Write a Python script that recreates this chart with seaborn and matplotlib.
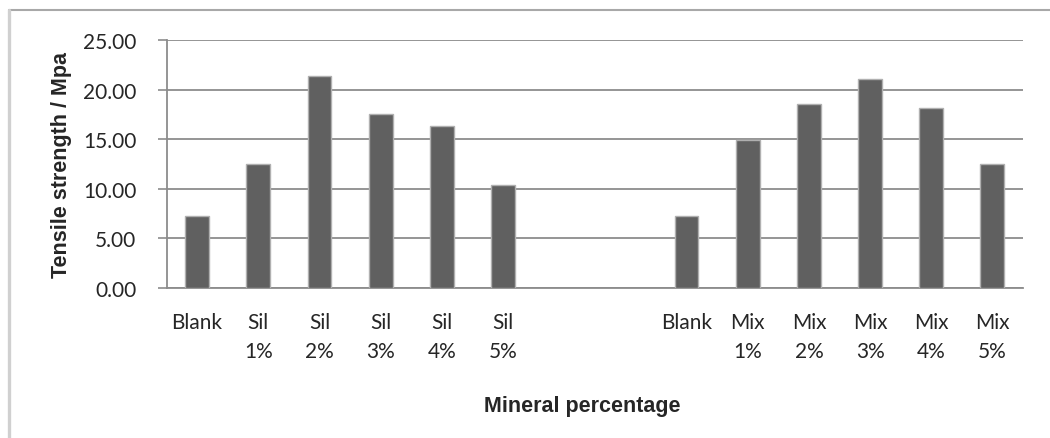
import matplotlib
matplotlib.use("Agg")
import matplotlib.pyplot as plt
from matplotlib.lines import Line2D
import seaborn as sns
import pandas as pd
import numpy as np

# Values
keys = ["Blank S", "Sil 1%", "Sil 2%", "Sil 3%", "Sil 4%", "Sil 5%", "gap 1", "gap 2",
        "Blank M", "Mix 1%", "Mix 2%", "Mix 3%", "Mix 4%", "Mix 5%"]
tick_labels = ["Blank", "Sil\n1%", "Sil\n2%", "Sil\n3%", "Sil\n4%", "Sil\n5%", "", "",
               "Blank", "Mix\n1%", "Mix\n2%", "Mix\n3%", "Mix\n4%", "Mix\n5%"]
strength = [7.3, 12.5, 21.4, 17.5, 16.3, 10.4, np.nan, np.nan,
            7.3, 14.9, 18.5, 21.1, 18.1, 12.5]
y_ticks = [0, 5, 10, 15, 20, 25]

df = pd.DataFrame({"key": keys, "strength": strength})

sns.set_style("white")
plt.rcParams["font.family"] = ["Lato", "DejaVu Sans"]

fig = plt.figure(figsize=(10.5, 4.39), dpi=100)
ax = fig.add_axes([0.1586, 0.3417, 0.8157, 0.5649])

grey = "#8c8c8c"
sns.barplot(data=df, x="key", y="strength", order=keys, color="#606060",
            width=0.39, edgecolor="#b0b0b0", linewidth=1.0, saturation=1,
            errorbar=None, ax=ax, zorder=3)

ax.set_xlim(-0.5, 13.5)
ax.set_ylim(0, 25)
ax.set_yticks(y_ticks)
ax.set_yticklabels([f"{v:.2f}" for v in y_ticks], fontsize=15)
ax.set_xticks(range(len(keys)))
ax.set_xticklabels(tick_labels, fontsize=15, linespacing=1.6)
ax.set_xticks(np.arange(-0.5, 14, 1), minor=True)

ax.tick_params(axis="x", which="major", length=0, pad=17)
ax.tick_params(axis="x", which="minor", length=6, width=1.2, color=grey, direction="out")
ax.tick_params(axis="y", length=6.8, width=1.2, color=grey, direction="out", pad=15,
               left=True)

ax.set_axisbelow(True)
ax.yaxis.grid(True, color=grey, linewidth=1.3)
for side in ["top", "right"]:
    ax.spines[side].set_visible(False)
for side in ["left", "bottom"]:
    ax.spines[side].set_color(grey)
    ax.spines[side].set_linewidth(1.3)

ax.set_xlabel("Mineral percentage", family="Liberation Sans", fontweight="bold",
              fontsize=15.5)
ax.set_ylabel("Tensile strength / Mpa", family="Liberation Sans", fontweight="bold",
              fontsize=15.5, labelpad=8)
ax.xaxis.set_label_coords(0.485, -0.43)

# chart-area frame, cut off by the image at right and bottom
fig.add_artist(Line2D([8.5 / 1050, 1.0], [1 - 11 / 439, 1 - 11 / 439],
                      transform=fig.transFigure, color="#a8a8a8", lw=1.5))
fig.add_artist(Line2D([8.5 / 1050, 8.5 / 1050], [0, 1 - 11 / 439],
                      transform=fig.transFigure, color="#d0d0d0", lw=2.4))

fig.savefig("out.png", dpi=100)
